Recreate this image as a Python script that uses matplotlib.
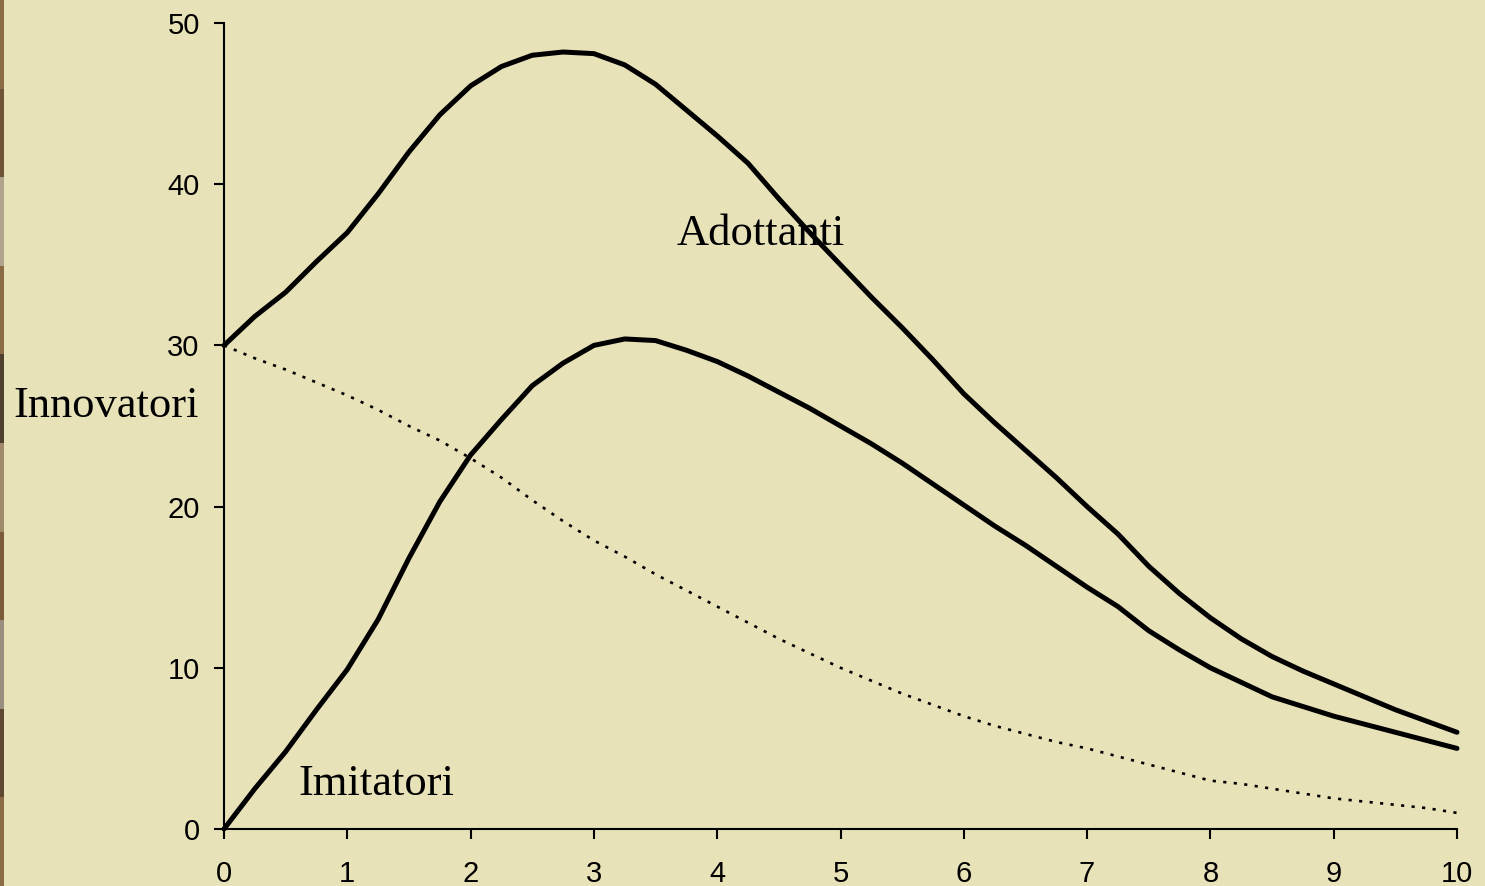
import matplotlib
matplotlib.use("Agg")
import matplotlib.pyplot as plt
from matplotlib.patches import Rectangle

# Time axis (periods) and the three series of the diffusion model
periodi = [i * 0.25 for i in range(41)]

adottanti = [30.0, 31.8, 33.3, 35.2, 37.0, 39.4, 42.0, 44.3, 46.1, 47.3,
             48.0, 48.2, 48.1, 47.4, 46.2, 44.6, 43.0, 41.3, 39.1, 37.0,
             35.0, 33.0, 31.1, 29.1, 27.0, 25.2, 23.5, 21.8, 20.0, 18.3,
             16.3, 14.6, 13.1, 11.8, 10.7, 9.8, 9.0, 8.2, 7.4, 6.7, 6.0]

imitatori = [0.0, 2.5, 4.8, 7.4, 9.9, 13.0, 16.8, 20.3, 23.2, 25.4,
             27.5, 28.9, 30.0, 30.4, 30.3, 29.7, 29.0, 28.1, 27.1, 26.1,
             25.0, 23.9, 22.7, 21.4, 20.1, 18.8, 17.6, 16.3, 15.0, 13.8,
             12.3, 11.1, 10.0, 9.1, 8.2, 7.6, 7.0, 6.5, 6.0, 5.5, 5.0]

innovatori = [30.0, 29.2, 28.5, 27.7, 26.9, 26.0, 25.0, 24.1, 23.0, 21.8,
              20.4, 19.1, 17.9, 16.9, 15.8, 14.8, 13.8, 12.8, 11.8, 10.9,
              10.0, 9.2, 8.4, 7.7, 7.0, 6.4, 5.9, 5.4, 5.0, 4.5,
              4.0, 3.5, 3.0, 2.8, 2.5, 2.2, 1.9, 1.7, 1.5, 1.3, 1.0]

x_ticks = list(range(0, 11))
y_ticks = [0, 10, 20, 30, 40, 50]

BG = "#E8E2B9"
W, H = 1485, 886

fig = plt.figure(figsize=(W / 100, H / 100), dpi=100, facecolor=BG)

# thin textured border strip on the far left
strip_colors = ["#8B6B45", "#5E4A33", "#9A8F7E", "#7A5C3B", "#A08A6A",
                "#4E3F2E", "#8B6B45", "#B0A48E", "#6E5538", "#8B6B45"]
n = len(strip_colors)
for i, c in enumerate(strip_colors):
    fig.patches.append(Rectangle((0, i / n), 4 / W, 1 / n,
                                 transform=fig.transFigure,
                                 facecolor=c, edgecolor="none", zorder=0))

ax = fig.add_axes([224 / W, 1 - 829 / H, 1233 / W, 806 / H])
ax.set_facecolor(BG)

ax.plot(periodi, innovatori, color="black", lw=1.9, linestyle=(0, (1.2, 2.8)),
        zorder=3, clip_on=False)
ax.plot(periodi, imitatori, color="black", lw=3.6, solid_capstyle="round",
        solid_joinstyle="round", zorder=4, clip_on=False)
ax.plot(periodi, adottanti, color="black", lw=3.6, solid_capstyle="round",
        solid_joinstyle="round", zorder=4, clip_on=False)

ax.set_xlim(0, 10)
ax.set_ylim(0, 50)
ax.set_xticks(x_ticks)
ax.set_yticks(y_ticks)

for side in ("top", "right"):
    ax.spines[side].set_visible(False)
for side in ("left", "bottom"):
    ax.spines[side].set_linewidth(1.5)
    ax.spines[side].set_color("black")

ax.tick_params(axis="both", direction="out", length=7.5, width=1.5,
               colors="black", labelsize=21)
ax.tick_params(axis="x", pad=15)
ax.tick_params(axis="y", pad=10)
for lbl in ax.get_xticklabels() + ax.get_yticklabels():
    lbl.set_fontfamily("Liberation Sans")

serif = "Liberation Serif"
t_ad = ax.text(3.67, 36.2, "Adottanti", fontsize=32, family=serif,
               color="black", ha="left", va="baseline", zorder=2)
# the label is cut just at its baseline
clip = Rectangle((0, 1 - 245.5 / H), 1, 245.5 / H, transform=fig.transFigure,
                 facecolor="none", edgecolor="none")
fig.patches.append(clip)
t_ad.set_clip_path(clip)
t_ad.set_clip_on(True)

ax.text(0.6, 2.1, "Imitatori", fontsize=32, family=serif, color="black",
        ha="left", va="baseline", zorder=2)
fig.text(13 / W, 1 - 417 / H, "Innovatori", fontsize=32, family=serif,
         color="black", ha="left", va="baseline")

fig.savefig("out.png", dpi=100, facecolor=BG)
